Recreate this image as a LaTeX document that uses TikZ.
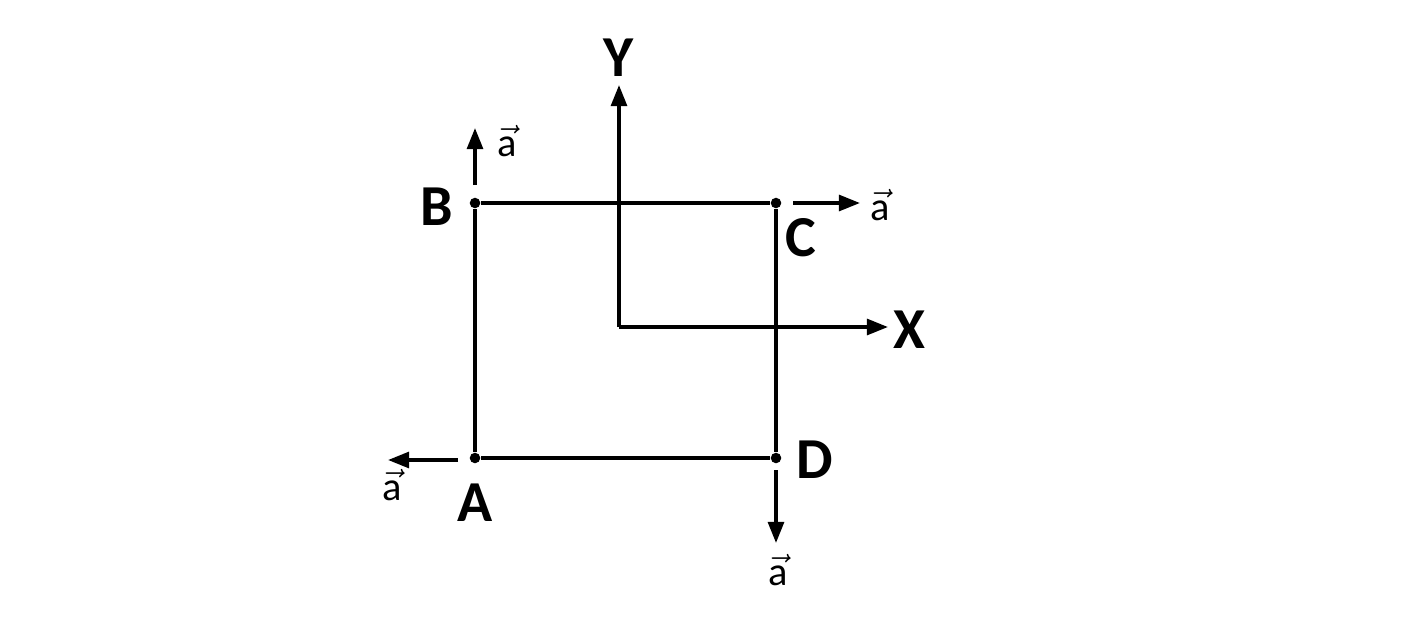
\documentclass[tikz,border=0pt]{standalone}
\usepackage{fontspec}
\setmainfont{Carlito}
\usetikzlibrary{arrows.meta}
\begin{document}
\begin{tikzpicture}[x=0.02cm,y=-0.02cm,
  ln/.style={line width=2pt},
  ar/.style={line width=2pt,-{Triangle[length=12pt,width=9pt]}},
  lab/.style={font=\fontsize{33}{38}\selectfont\bfseries},
  va/.style={font=\fontsize{23}{27}\selectfont,inner sep=0pt},
  dot/.style={circle,fill,inner sep=0pt,minimum size=6pt}]
\useasboundingbox (0,0) rectangle (1403,623);
\node[dot] (A) at (475,458) {};
\node[dot] (B) at (475,203) {};
\node[dot] (C) at (776,203) {};
\node[dot] (D) at (776,458) {};
\coordinate (O) at (619,327);
\coordinate (Ye) at (619,85);
\coordinate (Xe) at (888,327);
\draw[ln] (A) -- (B) -- (C) -- (D) -- (A);
\draw[ar] (O) -- (Ye);
\draw[ar] (O) -- (Xe);
\node[lab] (Yl) at (619,58) {Y};
\node[lab] (Xl) at (909,330) {X};
\node[lab] (Bl) at (437,207) {B};
\node[lab] (Cl) at (801,238) {C};
\node[lab] (Al) at (475,503) {A};
\node[lab] (Dl) at (815,460) {D};
\coordinate (b1) at (475,185); \coordinate (b2) at (475,128);
\coordinate (c1) at (793,203); \coordinate (c2) at (860,203);
\coordinate (a1) at (458,460); \coordinate (a2) at (388,460);
\coordinate (d1) at (776,470); \coordinate (d2) at (776,543);
\draw[ar] (b1) -- (b2);
\draw[ar] (c1) -- (c2);
\draw[ar] (a1) -- (a2);
\draw[ar] (d1) -- (d2);
\node[va] (ab) at (507,141) {$\vec{\mbox{a}}$};
\node[va] (ac) at (880,205) {$\vec{\mbox{a}}$};
\node[va] (aa) at (392,485) {$\vec{\mbox{a}}$};
\node[va] (ad) at (778,570) {$\vec{\mbox{a}}$};
\end{tikzpicture}
\end{document}
